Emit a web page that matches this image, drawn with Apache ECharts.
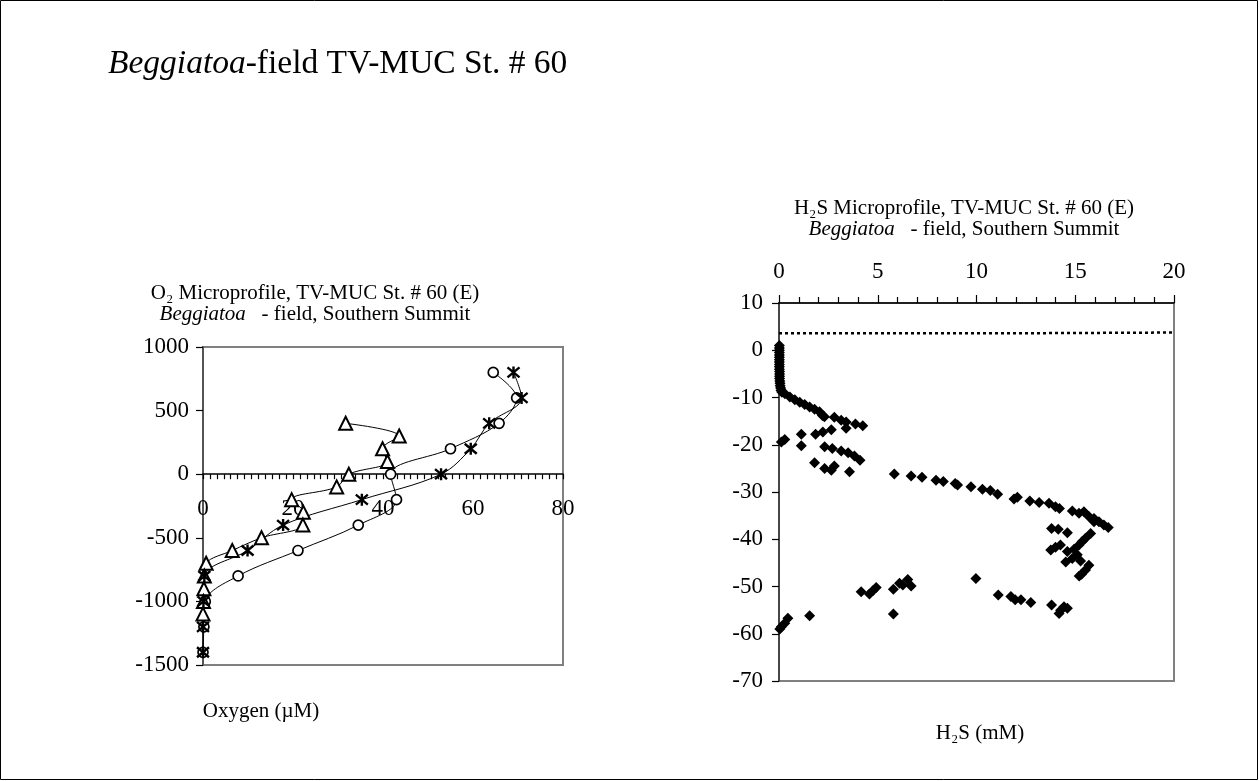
<!DOCTYPE html>
<html><head><meta charset="utf-8">
<script src="https://cdn.jsdelivr.net/npm/echarts@6/dist/echarts.min.js"></script>
<style>html,body{margin:0;padding:0;background:#fff}#c{width:1259px;height:781px}</style>
</head><body><div id="c"></div><script>
// ---- O2 microprofile (left) ----
const o2Ticks = [-1500, -1000, -500, 0, 500, 1000];
const o2XTicks = [0, 20, 40, 60, 80];
const circleDepth = [800, 600, 400, 200, 0, -200, -400, -600, -800, -1000, -1200, -1400];
const circleO2    = [64.5, 69.7, 65.8, 55.0, 41.7, 43.0, 34.5, 21.1, 7.8, 0.5, 0.2, 0];
const triDepth = [400, 300, 200, 100, 0, -100, -200, -300, -400, -500, -600, -700, -800, -900, -1000, -1100];
const triO2    = [31.7, 43.6, 39.9, 41.0, 32.4, 29.7, 19.7, 22.3, 22.2, 13.0, 6.5, 0.7, 0.3, 0.2, 0.1, 0];
const starDepth = [800, 600, 400, 200, 0, -200, -400, -600, -800, -1000, -1200, -1400];
const starO2    = [69.0, 70.8, 63.6, 59.5, 52.9, 35.3, 17.8, 9.9, 0.3, 0.1, 0, 0];

// ---- H2S microprofile (right) ----
const h2sYTicks = [-70, -60, -50, -40, -30, -20, -10, 0, 10];
const h2sXTicks = [0, 5, 10, 15, 20];
const surfaceX = [0, 12.3, 12.3, 20];
const surfaceY = [3.6, 3.6, 3.75, 3.75];
const h2sX = [
  0.02,0.02,0.02,0.02,0.02,0.02,0.02,0.02,0.02,0.02,0.02,0.03,0.03,0.03,0.03,0.04,0.05,0.06,0.08,0.1,0.15,
  0.3,0.55,0.8,1.05,1.3,1.55,1.8,2.05,2.2,2.3,2.8,3.15,3.4,3.4,3.87,4.24,
  0.12,0.29,1.13,1.13,1.85,2.22,2.65,2.31,2.7,3.15,3.5,3.82,4.1,1.8,2.31,2.8,2.65,3.57,
  5.84,6.69,7.24,7.95,8.32,8.92,9.04,9.72,10.3,10.7,11.07,11.9,12.07,12.7,13.17,13.67,14.0,14.2,14.85,15.19,15.44,15.69,15.95,15.95,16.2,16.45,16.67,
  13.8,14.14,14.6,15.78,15.52,15.35,15.19,14.25,14.0,13.76,14.94,14.6,15.1,14.85,15.27,14.52,15.69,15.52,15.32,15.2,
  9.97,11.1,11.74,11.96,12.25,12.75,13.8,14.43,14.6,14.26,14.18,
  4.16,4.58,4.75,4.92,5.79,5.79,6.1,6.27,6.52,6.69,1.55,0.45,0.29,0.12,0.04
];
const h2sY = [
  1,0.5,0,-0.5,-1,-1.5,-2,-2.5,-3,-3.5,-4,-4.5,-5,-5.5,-6,-6.5,-7,-7.5,-8,-8.5,-8.9,
  -9.2,-9.9,-10.5,-11,-11.5,-12,-12.5,-13,-13.8,-14.1,-14.2,-14.8,-15.2,-16.5,-15.6,-16.0,
  -19.4,-18.9,-17.8,-20.2,-17.8,-17.3,-16.8,-20.4,-20.8,-21.3,-21.7,-22.4,-23.3,-23.8,-25,-24.5,-25.4,-25.7,
  -26.2,-26.6,-26.9,-27.5,-27.8,-28.2,-28.5,-28.9,-29.4,-29.7,-30.5,-31.5,-31.1,-31.9,-32.2,-32.4,-33.1,-33.5,-34.0,-34.5,-34.2,-35.2,-35.6,-36.3,-36.3,-37.0,-37.5,
  -37.7,-37.9,-38.6,-38.8,-39.8,-40.5,-41.2,-41.2,-41.7,-42.3,-42.1,-42.6,-43.3,-44.1,-44.6,-44.8,-45.5,-46.5,-47.4,-47.8,
  -48.3,-51.8,-52.1,-52.8,-52.8,-53.4,-53.9,-54.3,-54.6,-55.0,-55.7,
  -51.1,-51.6,-50.9,-50.2,-50.6,-55.8,-49.3,-49.7,-48.5,-49.9,-56.2,-56.7,-57.8,-58.5,-59
];

const FONT = "'Liberation Serif', 'Times New Roman', serif";
const zip = (xs, ys) => xs.map((x, i) => [x, ys[i]]);
const lbl = {color: '#000', fontFamily: FONT, fontSize: 23};
const starPath = 'path://M0,0L10,10M10,0L0,10M5,-1L5,11';

const chart = echarts.init(document.getElementById('c'), null, {renderer: 'canvas'});
const commonLine = {type: 'line', smooth: 0.35, lineStyle: {color: '#000', width: 1}, z: 3, animation: false};

chart.setOption({
  animation: false,
  backgroundColor: '#fff',
  grid: [
    {left: 203, top: 347, width: 360, height: 318, show: true, borderColor: '#808080', borderWidth: 2, backgroundColor: 'transparent'},
    {left: 779, top: 303, width: 395, height: 378, show: true, borderColor: '#808080', borderWidth: 2, backgroundColor: 'transparent'}
  ],
  xAxis: [
    {gridIndex: 0, type: 'value', min: o2XTicks[0], max: o2XTicks[o2XTicks.length - 1], interval: 20,
     axisLine: {onZero: true, lineStyle: {color: '#000', width: 1.5}},
     axisTick: {show: true, length: 5, lineStyle: {color: '#000', width: 1.2}},
     minorTick: {show: true, splitNumber: 13, length: 5, lineStyle: {color: '#000', width: 1.2}},
     axisLabel: Object.assign({margin: -168}, lbl), splitLine: {show: false}},
    {gridIndex: 1, type: 'value', position: 'top', min: h2sXTicks[0], max: h2sXTicks[h2sXTicks.length - 1], interval: 5,
     axisLine: {onZero: false, lineStyle: {color: '#000', width: 1.5}},
     axisTick: {show: true, length: 8, lineStyle: {color: '#000', width: 1.2}},
     minorTick: {show: true, splitNumber: 5, length: 6, lineStyle: {color: '#000', width: 1.2}},
     axisLabel: Object.assign({margin: 20}, lbl), splitLine: {show: false}}
  ],
  yAxis: [
    {gridIndex: 0, type: 'value', min: o2Ticks[0], max: o2Ticks[o2Ticks.length - 1], interval: 500,
     axisLine: {onZero: false, lineStyle: {color: '#555', width: 2}},
     axisTick: {show: true, length: 7, lineStyle: {color: '#000', width: 1.2}},
     axisLabel: Object.assign({margin: 14, formatter: v => String(v)}, lbl), splitLine: {show: false}},
    {gridIndex: 1, type: 'value', min: h2sYTicks[0], max: h2sYTicks[h2sYTicks.length - 1], interval: 10,
     axisLine: {onZero: false, lineStyle: {color: '#333', width: 1.5}},
     axisTick: {show: true, length: 7, lineStyle: {color: '#000', width: 1.2}},
     axisLabel: Object.assign({margin: 16, formatter: v => String(v)}, lbl), splitLine: {show: false}}
  ],
  series: [
    Object.assign({}, commonLine, {name: 'circles', xAxisIndex: 0, yAxisIndex: 0, data: zip(circleO2, circleDepth),
      symbol: 'circle', symbolSize: 10, itemStyle: {color: '#fff', borderColor: '#000', borderWidth: 1.7}}),
    Object.assign({}, commonLine, {name: 'triangles', xAxisIndex: 0, yAxisIndex: 0, data: zip(triO2, triDepth),
      symbol: 'triangle', symbolSize: 13, itemStyle: {color: '#fff', borderColor: '#000', borderWidth: 2}}),
    Object.assign({}, commonLine, {name: 'stars', xAxisIndex: 0, yAxisIndex: 0, data: zip(starO2, starDepth),
      symbol: starPath, symbolSize: 12, itemStyle: {color: 'rgba(0,0,0,0)', borderColor: '#000', borderWidth: 2.4}}),
    {type: 'line', name: 'surface', xAxisIndex: 1, yAxisIndex: 1, data: zip(surfaceX, surfaceY), symbol: 'none',
     lineStyle: {color: '#000', width: 2.5, type: [3, 3]}, animation: false, z: 2},
    {type: 'scatter', name: 'H2S', xAxisIndex: 1, yAxisIndex: 1, data: zip(h2sX, h2sY), symbol: 'diamond',
     symbolSize: 11, itemStyle: {color: '#000', opacity: 1}, animation: false, z: 3}
  ],
  graphic: [
    {type: 'rect', shape: {x: 0.5, y: 0.5, width: 1257, height: 779}, style: {fill: 'none', stroke: '#000', lineWidth: 1}, silent: true},
    {type: 'text', x: 108, y: 64, style: {text: '{i|Beggiatoa}-field TV-MUC St. # 60', font: '33.5px ' + FONT, fill: '#000', verticalAlign: 'middle', align: 'left',
      rich: {i: {fontStyle: 'italic', fontSize: 33.5, fontFamily: FONT}}}},
    {type: 'text', x: 315, y: 293, style: {text: 'O₂ Microprofile, TV-MUC St. # 60 (E)', font: '21px ' + FONT, fill: '#000', align: 'center', verticalAlign: 'middle'}},
    {type: 'text', x: 315, y: 314, style: {text: '{i|Beggiatoa}   - field, Southern Summit', font: '21px ' + FONT, fill: '#000', align: 'center', verticalAlign: 'middle',
      rich: {i: {fontStyle: 'italic', fontSize: 21, fontFamily: FONT}}}},
    {type: 'text', x: 964, y: 208, style: {text: 'H₂S Microprofile, TV-MUC St. # 60 (E)', font: '21px ' + FONT, fill: '#000', align: 'center', verticalAlign: 'middle'}},
    {type: 'text', x: 964, y: 229, style: {text: '{i|Beggiatoa}   - field, Southern Summit', font: '21px ' + FONT, fill: '#000', align: 'center', verticalAlign: 'middle',
      rich: {i: {fontStyle: 'italic', fontSize: 21, fontFamily: FONT}}}},
    {type: 'text', x: 261, y: 711, style: {text: 'Oxygen (µM)', font: '21px ' + FONT, fill: '#000', align: 'center', verticalAlign: 'middle'}},
    {type: 'text', x: 980, y: 733, style: {text: 'H₂S (mM)', font: '21px ' + FONT, fill: '#000', align: 'center', verticalAlign: 'middle'}}
  ]
});
</script></body></html>
